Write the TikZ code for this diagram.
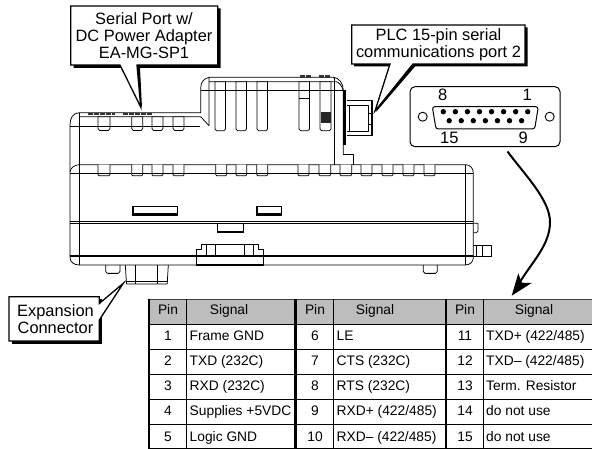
\documentclass[tikz,border=0pt]{standalone}
\usepackage{fontspec}
\setmainfont{Liberation Sans}
\tikzset{
  thin line/.style={draw=black,line width=0.75pt,line join=round},
  med line/.style={draw=black,line width=1.1pt,line join=round},
  callout/.style={draw=black,line width=1.3pt,fill=white,line join=miter},
  calloutshadow/.style={fill=black,draw=none},
  calltext/.style={inner sep=0pt,align=center,font=\fontsize{16.4}{16.8}\selectfont},
  celltext/.style={inner sep=0pt,font=\fontsize{13.8}{15}\selectfont,text height=10pt,text depth=3pt},
  cellleft/.style={celltext,anchor=west},
  pinlabel/.style={inner sep=0pt,font=\fontsize{16.5}{16.5}\selectfont},
  pindot/.style={fill=black,draw=none},
  topmark/.style={draw=black!80,line width=2.4pt,dash pattern=on 5pt off 1pt},
}
\begin{document}
\begin{tikzpicture}[x=1pt,y=-1pt]
\useasboundingbox (0,0) rectangle (592,449);
\fill[white] (0,0) rectangle (592,449);
% ---- device: upper stepped housing
\draw[thin line] (70,172) -- (70,125) .. controls (70,118) and (73,113) .. (79,112.7) -- (200.7,112.7)
  -- (200.7,88) .. controls (200.7,82) and (204,78) .. (210,77.3) -- (333,77.3) .. controls (339,77.5) and (343,83) .. (343.3,90) -- (343.3,154);
\draw[thin line] (70,126) -- (200,126);
\draw[thin line] (79,112.7) -- (79,265);
\draw[thin line] (79,116.7) -- (200.7,116.7) -- (209,125.7) -- (209,77.3);
\draw[thin line] (200.7,90) -- (343.3,90);
\draw[thin line] (209,81.7) -- (336,81.7) .. controls (339,82) and (342,86) .. (343,90);
\draw[thin line] (334,77.3) -- (334,164.7);
\foreach \xa/\xb in {98/110,131.7/142.7,152/163,173/184}{
  \draw[thin line,fill=white] (\xa,116.7) -- (\xa,128.5) -- (\xa+1.5,130.5) -- (\xb-1.5,130.5) -- (\xb,128.5) -- (\xb,116.7) -- cycle;
  \draw[thin line] (\xa,126) -- (\xb,126);
}
\foreach \xa/\xb in {215/225.5,236/246.5,257/267.5,299/309.5,320/331}{
  \draw[thin line,fill=white] (\xa,81.7) -- (\xa,129) -- (\xa+1.5,130.7) -- (\xb-1.5,130.7) -- (\xb,129) -- (\xb,81.7) -- cycle;
  \draw[thin line] (\xa,90) -- (\xb,90);
}
\draw[thin line] (299,98) -- (309.5,98);
\fill[black!85] (320.5,112) rectangle (330.5,123);
\draw[topmark] (300,76.5) -- (312,76.5) (319,76.5) -- (330,76.5);
\draw[topmark] (88,114) -- (115,114) (123,114) -- (152,114);
% ---- port on the right of the housing
\fill[black] (343.3,90) rectangle (346,145);
\draw[med line] (346.5,100.5) -- (372.7,100.5) -- (372.7,135.7) -- (346.5,135.7);
\draw[thin line] (346.7,105) -- (368,105) -- (368,131.6) -- (346.7,131.6);
\draw[thin line] (371,100.5) -- (371,135.7) (368,113) -- (372.7,113) (368,124) -- (372.7,124);
\draw[thin line] (349,105) -- (349,131.6);
\draw[thin line] (343.3,154) -- (353,154) -- (353,164.7);
% ---- lower body
\draw[thin line] (70,172) .. controls (70.5,168) and (74,165) .. (79,164.7) -- (465,164.7) -- (466,164.7) .. controls (470,165) and (473.3,168) .. (473.3,173)
  -- (473.3,258) .. controls (473,262) and (470,265) .. (465,265) -- (79,265) .. controls (74,265) and (70,262) .. (70,257) -- cycle;
\draw[thin line] (70,173) -- (473.3,173);
\draw[med line] (70,221.3) -- (473.3,221.3);
\draw[thin line] (70,223.3) -- (473.3,223.3);
\draw[med line] (70,256) -- (473.3,256);
\draw[thin line] (465,164.7) -- (465,265);
\foreach \xa/\xb in {98/110,131.7/142.7,152/163,173/184,215.7/226.7,236/246.7,256.7/267.7,298/309,319/330.7,340/351.7,361/372,382/393,403/414,424/435}{
  \draw[thin line,fill=white] (\xa,164.7) -- (\xa,174.5) -- (\xa+1,175.8) -- (\xb-1,175.8) -- (\xb,174.5) -- (\xb,164.7);
  \draw[thin line] (\xa,173) -- (\xb,173);
}
\draw[thin line] (132.7,206) rectangle (177.7,215);
\draw[draw=black,line width=1.9pt] (133.2,206) -- (133.2,214.2) -- (177.7,214.2);
\draw[thin line] (256.7,206) rectangle (281.7,215);
\draw[draw=black,line width=1.9pt] (257.2,206) -- (257.2,214.2) -- (281.7,214.2);
\draw[thin line] (217,223.3) -- (217,232) -- (243,232) -- (243,223.3);
\draw[med line] (217,232) -- (243,232);
% clip
\draw[draw=black,line width=1.5pt,line join=round] (196.7,265) -- (196.7,249.3) -- (201.7,249.3) -- (201.7,244.7) -- (258.3,244.7) -- (258.3,249.3) -- (263.3,249.3) -- (263.3,265) -- cycle;
\draw[thin line] (206.7,244.7) -- (206.7,256) (215.7,244.7) -- (215.7,256) (244.3,244.7) -- (244.3,256) (253.3,244.7) -- (253.3,256);
% feet and bottom connector
\draw[thin line] (105.7,265) -- (105.7,271.5) -- (107.5,273.3) -- (118.3,273.3) -- (120,271.5) -- (120,265);
\draw[med line] (107.5,273.3) -- (118.3,273.3);
\draw[thin line] (423.3,265) -- (423.3,271.5) -- (425,273.3) -- (435.5,273.3) -- (437.3,271.5) -- (437.3,265);
\draw[med line] (425,273.3) -- (435.5,273.3);
\draw[thin line] (125.3,265) -- (126.5,284) -- (167.2,284) -- (168.3,265);
\draw[thin line] (135.7,265) -- (135.7,284) (157.3,265) -- (157.3,284) (125.8,281.3) -- (167.8,281.3);
% right side details
\draw[thin line] (473.3,223.3) -- (478,223.3) -- (478,231) -- (476.5,232.7) -- (473.3,232.7);
\draw[thin line] (473.3,245.3) -- (491.7,245.3) -- (491.7,256.7) -- (473.3,256.7) (482,245.3) -- (482,256.7) (476,245.3) -- (476,256.7);
% ---- callouts
\fill[calloutshadow] (73.5,8.5) -- (220.5,8.5) -- (220.5,68) -- (140,68) -- (142,108) -- (122,68) -- (73.5,68) -- cycle;
\path[callout] (70.7,6) -- (217.7,6) -- (217.7,65) -- (137,65) -- (140.7,107) -- (120,65) -- (70.7,65) -- cycle;
\node[calltext] (serial) at (144,35.5) {Serial Port w/\\DC Power Adapter\\EA-MG-SP1};
\fill[calloutshadow] (354.2,27.5) -- (527.5,27.5) -- (527.5,66.5) -- (415,66.5) -- (376,112) -- (392,66.5) -- (354.2,66.5) -- cycle;
\path[callout] (351.7,25) -- (525,25) -- (525,64) -- (413,64) -- (375,111) -- (390,64) -- (351.7,64) -- cycle;
\node[calltext] (plc) at (438.5,44.5) {PLC 15-pin serial\\communications port 2};
\fill[calloutshadow] (11.5,299.2) -- (101.8,299.2) -- (101.8,343.5) -- (11.5,343.5) -- cycle;
\path[callout] (9,296.7) -- (99.3,296.7) -- (99.3,303.5) -- (123.3,283.3) -- (99.3,320) -- (99.3,341) -- (9,341) -- cycle;
\node[calltext] (expansion) at (55.5,319) {Expansion\\Connector};
% ---- connector panel
\node[draw=black,line width=1pt,rounded corners=5pt,minimum width=150pt,minimum height=60pt,inner sep=0pt] (panel) at (485,116.7) {};
\draw[draw=black,line width=1pt,rounded corners=2.5pt] (432.3,106.7) -- (538.3,106.7) -- (534.7,129) -- (436,129) -- cycle;
\node[circle,draw=black,line width=0.9pt,minimum size=9pt,inner sep=0pt] (holeL) at (422.7,116.7) {};
\node[circle,draw=black,line width=0.9pt,minimum size=9pt,inner sep=0pt] (holeR) at (549.7,116.7) {};
\foreach \i in {0,...,7}{ \fill[pindot] ({443.3+12.06*\i},111.7) circle (2.7); }
\foreach \i in {0,...,6}{ \fill[pindot] ({449.2+12.06*\i},120.7) circle (2.7); }
\node[pinlabel] (p8) at (442.7,95.3) {8};
\node[pinlabel] (p1) at (527.3,95.3) {1};
\node[pinlabel] (p15) at (449.3,137.6) {15};
\node[pinlabel] (p9) at (523.3,137.6) {9};
% ---- arrow from panel to table
\coordinate (arrowstart) at (507.5,151.5);
\coordinate (arrowtip) at (511.7,295.7);
\draw[draw=black,line width=2pt] (arrowstart) .. controls (525,175) and (550,200) .. (550,222) .. controls (550,245) and (532,262) .. (520,282);
\fill[black] (arrowtip) -- (531.7,283) -- (521.7,282.7) -- (518.3,273.3) -- cycle;
% ---- table
\fill[black!26] (149,299.3) rectangle (592,324.3);
\foreach \y in {324.3,349.3,374.3,399.3,424.3,448.3}{ \draw[draw=black,line width=1pt] (149,\y) -- (592,\y); }
\draw[draw=black!75,line width=1.5pt] (149,299.3) -- (592,299.3);
\draw[draw=black,line width=1pt] (186.7,299.3) -- (186.7,448.3) (333.7,299.3) -- (333.7,448.3) (483.7,299.3) -- (483.7,448.3);
\draw[draw=black,line width=2.2pt] (149.3,298.6) -- (149.3,449);
\draw[draw=black,line width=2.6pt] (295.7,298.6) -- (295.7,449) (446,298.6) -- (446,449);
\foreach \cx/\sc in {168/229,315/375,465/534}{
  \node[celltext] at (\cx,311.5) {Pin};
  \node[celltext] at (\sc,311.5) {Signal};
}
\foreach \y/\a/\b/\c/\d/\e/\f in {
  337/1/{Frame GND}/6/{LE}/11/{TXD+ (422/485)},
  362/2/{TXD (232C)}/7/{CTS (232C)}/12/{TXD– (422/485)},
  387/3/{RXD (232C)}/8/{RTS (232C)}/13/{Term. Resistor},
  412/4/{Supplies +5VDC}/9/{RXD+ (422/485)}/14/{do not use},
  438/5/{Logic GND}/10/{RXD– (422/485)}/15/{do not use}}{
  \node[celltext] at (168,\y) {\a};
  \node[cellleft] at (189.5,\y) {\b};
  \node[celltext] at (315,\y) {\c};
  \node[cellleft] at (336.5,\y) {\d};
  \node[celltext] at (465,\y) {\e};
  \node[cellleft] at (486,\y) {\f};
}
\end{tikzpicture}
\end{document}
